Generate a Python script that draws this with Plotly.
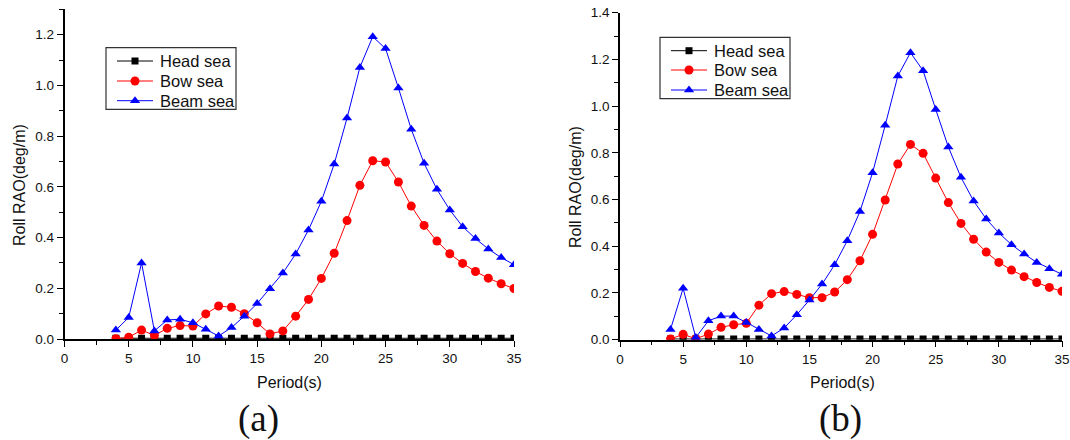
import plotly.graph_objects as go

period = list(range(4, 36))

# Panel (a)
head_a = [0.003] * len(period)
bow_a = [0.001, 0.007, 0.035, 0.014, 0.042, 0.053, 0.051, 0.099, 0.130, 0.125, 0.100, 0.064,
         0.020, 0.032, 0.090, 0.156, 0.239, 0.338, 0.467, 0.606, 0.703, 0.698, 0.619, 0.524,
         0.448, 0.386, 0.336, 0.298, 0.266, 0.240, 0.218, 0.199]
beam_a = [0.035, 0.085, 0.300, 0.032, 0.075, 0.078, 0.064, 0.038, 0.012, 0.045, 0.090, 0.140,
          0.198, 0.260, 0.335, 0.430, 0.543, 0.690, 0.871, 1.071, 1.192, 1.145, 0.990, 0.827,
          0.693, 0.590, 0.509, 0.443, 0.396, 0.355, 0.321, 0.293]

# Panel (b)
head_b = [0.003] * len(period)
bow_b = [0.003, 0.023, 0.004, 0.024, 0.053, 0.064, 0.070, 0.148, 0.197, 0.206, 0.194, 0.180,
         0.180, 0.204, 0.257, 0.338, 0.451, 0.598, 0.752, 0.836, 0.798, 0.692, 0.587, 0.498,
         0.430, 0.375, 0.331, 0.298, 0.270, 0.245, 0.224, 0.207]
beam_b = [0.044, 0.220, 0.009, 0.081, 0.101, 0.101, 0.074, 0.044, 0.016, 0.050, 0.107, 0.170,
          0.238, 0.321, 0.424, 0.549, 0.715, 0.918, 1.129, 1.229, 1.152, 0.986, 0.825, 0.695,
          0.594, 0.517, 0.457, 0.407, 0.367, 0.331, 0.304, 0.280]

series_names = ["Head sea", "Bow sea", "Beam sea"]
x_ticks = [0, 5, 10, 15, 20, 25, 30, 35]

styles = [
    dict(color="black", symbol="square", size=7),
    dict(color="red", symbol="circle", size=9),
    dict(color="blue", symbol="triangle-up", size=9),
]

W, H = 1070, 440
FONT = "Arial, Liberation Sans, sans-serif"
SERIF = "Times New Roman, Liberation Serif, serif"

fig = go.Figure()

def add_panel(vals, xa, ya):
    for name, v, st in zip(series_names, vals, styles):
        fig.add_trace(go.Scatter(
            x=period, y=v, name=name, mode="lines+markers",
            line=dict(color=st["color"], width=1),
            marker=dict(color=st["color"], symbol=st["symbol"], size=st["size"],
                        line=dict(width=0)),
            xaxis=xa, yaxis=ya, showlegend=False,
        ))

add_panel([head_a, bow_a, beam_a], "x", "y")
add_panel([head_b, bow_b, beam_b], "x2", "y2")

def px_x(p):
    return p / W

def px_y(p):
    return 1 - p / H

axis_common = dict(
    showline=True, linecolor="black", linewidth=1.5, mirror=False,
    ticks="outside", ticklen=6, tickwidth=1.2, tickcolor="black",
    showgrid=False, zeroline=False, automargin=False,
    tickfont=dict(family=FONT, size=13.5, color="#111"),
)
minor_x = dict(dtick=2.5, ticklen=4, ticks="outside", tickcolor="black", showgrid=False)
minor_y = dict(dtick=0.1, ticklen=4, ticks="outside", tickcolor="black", showgrid=False)

fig.update_layout(
    template="none",
    width=W, height=H,
    margin=dict(l=0, r=0, t=0, b=0, pad=0),
    paper_bgcolor="white", plot_bgcolor="white",
    font=dict(family=FONT, color="#111"),
    showlegend=False,
    xaxis=dict(domain=[px_x(64.5), px_x(514)], range=[0, 35], tickvals=x_ticks,
               minor=minor_x, anchor="y", **axis_common),
    yaxis=dict(domain=[px_y(339), px_y(9.3)], range=[0, 1.3], dtick=0.2, tick0=0,
               tickformat=".1f", minor=minor_y, anchor="x", **axis_common),
    xaxis2=dict(domain=[px_x(620), px_x(1062)], range=[0, 35], tickvals=x_ticks,
                minor=minor_x, anchor="y2", **axis_common),
    yaxis2=dict(domain=[px_y(339.7), px_y(12.7)], range=[0, 1.4], dtick=0.2, tick0=0,
                tickformat=".1f", minor=minor_y, anchor="x2", **axis_common),
)

annotations = []

def ann(text, x, y, size, family, angle=0, xanchor="center"):
    return dict(text=text, x=px_x(x), y=px_y(y), xref="paper", yref="paper",
                xanchor=xanchor, yanchor="middle", showarrow=False, textangle=angle,
                font=dict(family=family, size=size, color="#111"))

def legend_box(box, line_x0, line_x1, rows, text_x):
    bx0, by0, bx1, by1 = box
    fig.add_shape(type="rect", xref="paper", yref="paper", layer="above",
                  x0=px_x(bx0), x1=px_x(bx1), y0=px_y(by1), y1=px_y(by0),
                  line=dict(color="#333", width=1.2), fillcolor="white")
    mx = (line_x0 + line_x1) / 2
    for name, st, ry in zip(series_names, styles, rows):
        c = st["color"]
        fig.add_shape(type="line", xref="paper", yref="paper", layer="above",
                      x0=px_x(line_x0), x1=px_x(line_x1), y0=px_y(ry), y1=px_y(ry),
                      line=dict(color=c, width=1))
        r = st["size"] / 2
        if st["symbol"] == "square":
            fig.add_shape(type="rect", xref="paper", yref="paper", layer="above",
                          x0=px_x(mx - r), x1=px_x(mx + r), y0=px_y(ry + r), y1=px_y(ry - r),
                          line=dict(width=0), fillcolor=c)
        elif st["symbol"] == "circle":
            fig.add_shape(type="circle", xref="paper", yref="paper", layer="above",
                          x0=px_x(mx - r), x1=px_x(mx + r), y0=px_y(ry + r), y1=px_y(ry - r),
                          line=dict(width=0), fillcolor=c)
        else:
            rt = r * 2 / 3 ** 0.5
            path = "M {:.5f} {:.5f} L {:.5f} {:.5f} L {:.5f} {:.5f} Z".format(
                px_x(mx - rt), px_y(ry + r / 2), px_x(mx + rt), px_y(ry + r / 2),
                px_x(mx), px_y(ry - r))
            fig.add_shape(type="path", xref="paper", yref="paper", layer="above",
                          path=path, line=dict(width=0), fillcolor=c)
        annotations.append(ann(name, text_x, ry, 16.5, FONT, xanchor="left"))

legend_box((106, 47.7, 236, 109.3), 117, 153, [61, 81, 100.7], 157.5)
legend_box((660, 37.3, 790, 98.7), 671, 707, [50.7, 70, 90], 711.5)

annotations += [
    ann("Period(s)", 289, 382, 16, FONT),
    ann("Period(s)", 842, 382, 16, FONT),
    ann("Roll RAO(deg/m)", 20, 185, 16, FONT, -90),
    ann("Roll RAO(deg/m)", 575, 187, 16, FONT, -90),
    ann("(a)", 258, 419, 37, SERIF),
    ann("(b)", 840, 419, 37, SERIF),
]
fig.update_layout(annotations=annotations)

fig.write_html("out.html")
